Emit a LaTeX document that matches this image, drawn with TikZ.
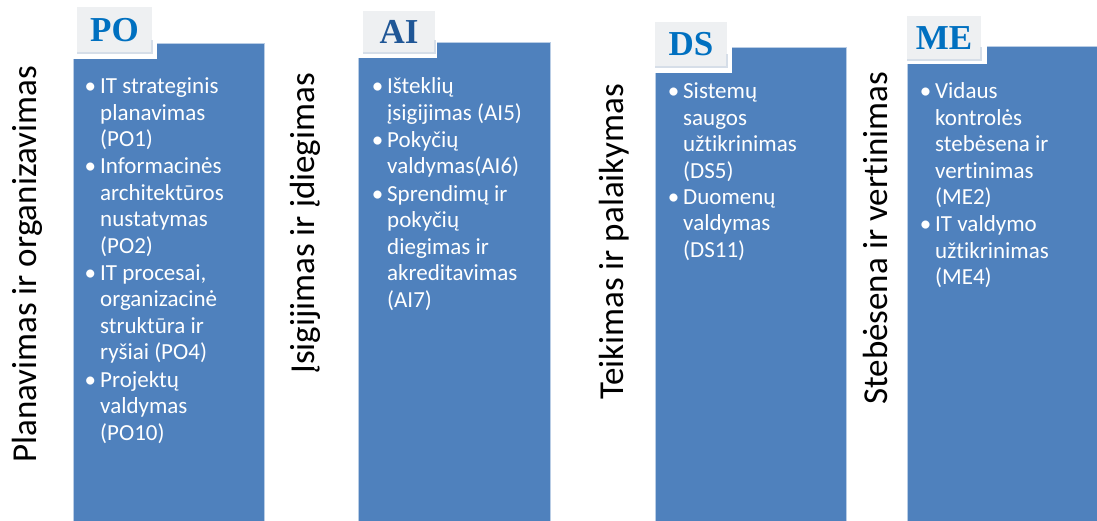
\documentclass[tikz,border=0pt]{standalone}
\usepackage{fontspec}
\setmainfont{Carlito}[Ligatures=NoCommon]
\newfontfamily\tabfont{Liberation Serif}
\usetikzlibrary{positioning}
\definecolor{colblue}{RGB}{79,129,189}
\definecolor{coledge}{RGB}{185,205,229}
\definecolor{tabgray}{RGB}{238,240,242}
\definecolor{tabshade}{RGB}{214,222,232}
\definecolor{tabtext}{RGB}{0,112,192}
\definecolor{aitext}{RGB}{31,86,150}
\newcommand{\bul}{\leavevmode\llap{\textbullet\hspace{4pt}}}

\begin{document}
\begin{tikzpicture}[x=1pt,y=-1pt,node distance=3pt,
  item/.style={font=\fontsize{23}{26.5}\selectfont,text=white,align=left,inner sep=0pt,anchor=north west,
    execute at begin node=\strut,execute at end node=\strut},
  grp/.style={font=\fontsize{35}{40}\selectfont,rotate=90,anchor=base west,inner sep=0pt},
  col/.style={fill=colblue,draw=coledge,line width=0.6pt},
  tabbox/.style={fill=tabgray},
  tabedge/.style={draw=tabshade,line width=1.2pt},
  tablbl/.style={font=\tabfont\bfseries\fontsize{35}{40}\selectfont,text=tabtext,inner sep=0pt}]
\useasboundingbox (0,0) rectangle (1097,521);

\draw[col] (73,43) rectangle (264,521);
\fill[white] (72,0) rectangle (157,59);
\fill[tabbox] (77,7) rectangle (152,53);
\draw[tabedge] (77,53) -- (152,53) -- (152,40);
\draw (114.5,30) node[tablbl](tpo){PO};
\draw (36,463) node[grp](gpo){Planavimas ir organizavimas};
\node[item] (po1) at (100,77.5) {\bul IT strateginis\\planavimas\\(PO1)};
\node[item,below=of po1.south west,anchor=north west] (po2) {\bul Informacinės\\architektūros\\nustatymas\\(PO2)};
\node[item,below=of po2.south west,anchor=north west] (po4) {\bul IT procesai,\\organizacinė\\struktūra ir\\ryšiai (PO4)};
\node[item,below=of po4.south west,anchor=north west] (po10) {\bul Projektų\\valdymas\\(PO10)};

\draw[col] (358,42) rectangle (550,521);
\fill[white] (357,0) rectangle (437,58);
\fill[tabbox] (363,11) rectangle (435,53);
\draw[tabedge] (363,53) -- (435,53) -- (435,40);
\draw (399,32) node[tablbl,text=aitext](tai){AI};
\draw (314,374) node[grp](gai){Įsigijimas ir įdiegimas};
\node[item] (ai5) at (387,77.5) {\bul Išteklių\\įsigijimas (AI5)};
\node[item,below=of ai5.south west,anchor=north west] (ai6) {\bul Pokyčių\\valdymas(AI6)};
\node[item,below=of ai6.south west,anchor=north west] (ai7) {\bul Sprendimų ir\\pokyčių\\diegimas ir\\akreditavimas\\(AI7)};

\draw[col] (655,47) rectangle (846,521);
\fill[white] (654,0) rectangle (732,73);
\fill[tabbox] (655,22) rectangle (727,67);
\draw[tabedge] (655,67) -- (727,67) -- (727,54);
\draw (691,44.5) node[tablbl](tds){DS};
\draw (623,400) node[grp](gds){Teikimas ir palaikymas};
\node[item] (ds5) at (683,82.5) {\bul Sistemų\\saugos\\užtikrinimas\\(DS5)};
\node[item,below=of ds5.south west,anchor=north west] (ds11) {\bul Duomenų\\valdymas\\(DS11)};

\draw[col] (907,46) rectangle (1097.5,521);
\fill[white] (906,0) rectangle (987,64);
\fill[tabbox] (907,16) rectangle (981,60);
\draw[tabedge] (907,60) -- (981,60) -- (981,47);
\draw (944,38) node[tablbl](tme){ME};
\draw (887,405) node[grp](gme){Stebėsena ir vertinimas};
\node[item] (me2) at (935,82.5) {\bul Vidaus\\kontrolės\\stebėsena ir\\vertinimas\\(ME2)};
\node[item,below=of me2.south west,anchor=north west] (me4) {\bul IT valdymo\\užtikrinimas\\(ME4)};
\end{tikzpicture}
\end{document}
